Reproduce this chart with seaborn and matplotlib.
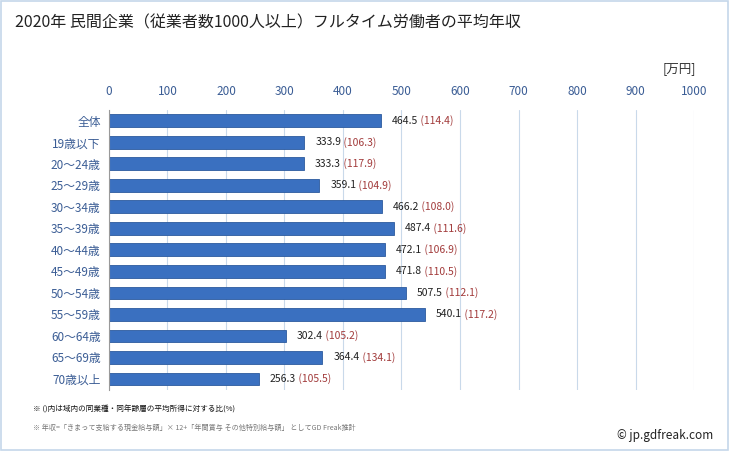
import numpy as np
import pandas as pd
import seaborn as sns
import matplotlib.pyplot as plt
from matplotlib.patches import Rectangle

# data
categories = ['全体', '19歳以下', '20～24歳', '25～29歳', '30～34歳', '35～39歳', '40～44歳',
              '45～49歳', '50～54歳', '55～59歳', '60～64歳', '65～69歳', '70歳以上']
salary = [464.5, 333.9, 333.3, 359.1, 466.2, 487.4, 472.1, 471.8, 507.5, 540.1, 302.4, 364.4, 256.3]
ratio = [114.4, 106.3, 117.9, 104.9, 108.0, 111.6, 106.9, 110.5, 112.1, 117.2, 105.2, 134.1, 105.5]
xticks = [0, 100, 200, 300, 400, 500, 600, 700, 800, 900, 1000]

df = pd.DataFrame({'age': categories, 'salary': salary, 'ratio': ratio})

sns.set_style('white')
plt.rcParams['font.family'] = ['Noto Sans CJK JP', 'DejaVu Sans']

fig = plt.figure(figsize=(7.29, 4.51), dpi=100)
ax = fig.add_axes([0.1495, 0.1358, 0.8025, 0.62])

sns.barplot(data=df, x='salary', y='age', color='#3a70c0', width=0.6, ax=ax,
            saturation=1, edgecolor='#2c5a9e', linewidth=0.6)

# label text: value + ratio
for i, (v, r) in enumerate(zip(salary, ratio)):
    t = ax.annotate(f'{v:.1f}', xy=(v, i), xytext=(8, 0), textcoords='offset points',
                    va='center', ha='left', fontsize=7.5, color='#222222')
    ax.annotate(f' ({r:.1f})', xycoords=t, xy=(1, 0.5), va='center', ha='left',
                fontsize=7.5, color='#a23b3b')

ax.set_xlim(0, 1000)
ax.set_xticks(xticks)
ax.xaxis.tick_top()
ax.tick_params(axis='x', length=0, pad=9, labelsize=8.5, labelcolor='#3b5d95')
ax.tick_params(axis='y', length=0, pad=6, labelsize=8.5, labelcolor='#3b5d95')
ax.set_xlabel('')
ax.set_ylabel('')
ax.grid(axis='x', color='#c9d9ea', linewidth=0.8)
ax.set_axisbelow(True)
for s in ['top', 'right', 'bottom']:
    ax.spines[s].set_visible(False)
ax.spines['left'].set_color('#9a9a9a')
ax.spines['left'].set_linewidth(0.8)

fig.text(0.02, 0.95, '2020年 民間企業（従業者数1000人以上）フルタイム労働者の平均年収',
         fontsize=11.5, color='#222222', va='center')
fig.text(0.955, 0.848, '[万円]', fontsize=9, color='#333333', ha='right', va='center')
fig.text(0.045, 0.093, '※ ()内は域内の同業種・同年齢層の平均所得に対する比(%)',
         fontsize=5.5, color='#111111', va='center')
fig.text(0.045, 0.052, '※ 年収=「きまって支給する現金給与額」× 12+「年間賞与 その他特別給与額」 としてGD Freak推計',
         fontsize=5.1, color='#777777', va='center')
fig.text(0.978, 0.034, '© jp.gdfreak.com', fontsize=8.5, color='#222222', ha='right', va='center')

# outer frame
fig.patches.append(Rectangle((0.002, 0.002), 0.996, 0.996, transform=fig.transFigure,
                             fill=False, edgecolor='#c5d7ea', linewidth=1.2))

fig.savefig('out.png', dpi=100)
